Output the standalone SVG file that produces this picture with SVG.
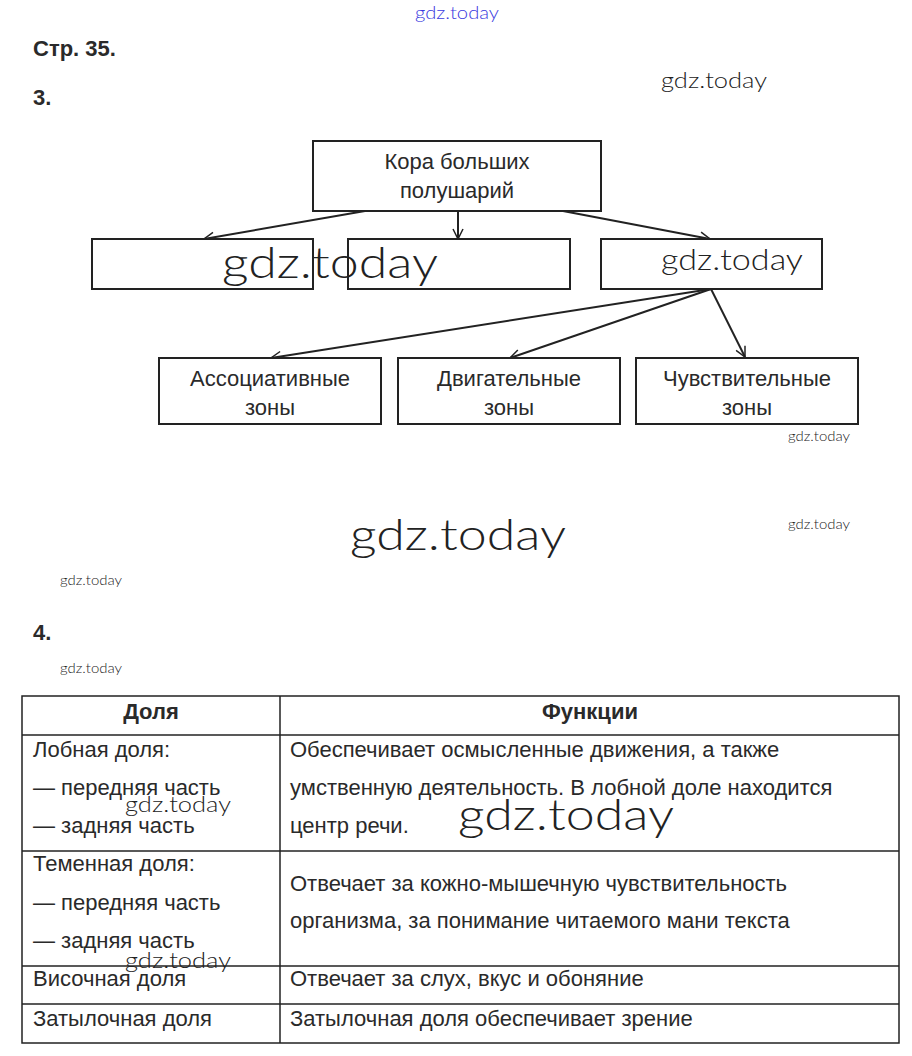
<svg xmlns="http://www.w3.org/2000/svg" width="912" height="1056" viewBox="0 0 912 1056">
<defs>
<marker id="ah" viewBox="0 0 12 12" refX="11" refY="6" markerWidth="12" markerHeight="12" markerUnits="userSpaceOnUse" orient="auto">
<path d="M1,1 L11,6 L1,11" fill="none" stroke="#222" stroke-width="1.5"/>
</marker>
<style>
.box{fill:#fff;stroke:#222;stroke-width:2}
.t{font-family:"Liberation Sans",Arial,sans-serif;font-size:22px;fill:#2a2a2a}
.c{text-anchor:middle}
.b{font-weight:bold}
.wm{font-family:Lato,"DejaVu Sans",sans-serif;font-weight:300;fill:#222}
.ln{stroke:#222;stroke-width:2;fill:none}
.grid{stroke:#222;stroke-width:1.5;fill:none}
</style>
</defs>
<rect width="912" height="1056" fill="#fff"/>
<text class="wm" x="415" y="19" font-size="17" style="fill:#3a3ae0" textLength="84" lengthAdjust="spacingAndGlyphs">gdz.today</text>
<text class="t b" x="33" y="56">Стр. 35.</text>
<text class="t b" x="33" y="105">3.</text>
<text class="wm" x="661" y="88" font-size="22" textLength="106" lengthAdjust="spacingAndGlyphs">gdz.today</text>

<g id="connectors">
<line class="ln" x1="365" y1="211" x2="204" y2="239" marker-end="url(#ah)"/>
<line class="ln" x1="458" y1="211" x2="458" y2="239" marker-end="url(#ah)"/>
<line class="ln" x1="563" y1="211" x2="710" y2="239" marker-end="url(#ah)"/>
<line class="ln" x1="711" y1="289" x2="271" y2="358" marker-end="url(#ah)"/>
<line class="ln" x1="711" y1="289" x2="510" y2="358" marker-end="url(#ah)"/>
<line class="ln" x1="711" y1="289" x2="745" y2="357" marker-end="url(#ah)"/>
</g>

<g id="n-top"><rect class="box" x="313" y="141" width="288" height="70"/>
<text class="t c" x="457" y="169">Кора больших</text>
<text class="t c" x="457" y="198">полушарий</text></g>
<g id="n-b1"><rect class="box" x="92" y="239" width="221" height="50"/></g>
<g id="n-b2"><rect class="box" x="348" y="239" width="222" height="50"/></g>
<g id="n-b3"><rect class="box" x="601" y="239" width="221" height="50"/></g>
<g id="n-assoc"><rect class="box" x="159" y="358" width="222" height="66"/>
<text class="t c" x="270" y="386">Ассоциативные</text>
<text class="t c" x="270" y="415">зоны</text></g>
<g id="n-motor"><rect class="box" x="398" y="358" width="222" height="66"/>
<text class="t c" x="509" y="386">Двигательные</text>
<text class="t c" x="509" y="415">зоны</text></g>
<g id="n-sens"><rect class="box" x="636" y="358" width="222" height="66"/>
<text class="t c" x="747" y="386">Чувствительные</text>
<text class="t c" x="747" y="415">зоны</text></g>

<text class="wm" x="222" y="278" font-size="44" textLength="216" lengthAdjust="spacingAndGlyphs">gdz.today</text>
<text class="wm" x="661" y="270" font-size="30" textLength="142" lengthAdjust="spacingAndGlyphs">gdz.today</text>
<text class="wm" x="788" y="441" font-size="13" textLength="62" lengthAdjust="spacingAndGlyphs">gdz.today</text>
<text class="wm" x="788" y="529" font-size="13" textLength="62" lengthAdjust="spacingAndGlyphs">gdz.today</text>
<text class="wm" x="350" y="550" font-size="44" textLength="216" lengthAdjust="spacingAndGlyphs">gdz.today</text>
<text class="wm" x="60" y="585" font-size="13" textLength="62" lengthAdjust="spacingAndGlyphs">gdz.today</text>
<text class="t b" x="33" y="640">4.</text>
<text class="wm" x="60" y="673" font-size="13" textLength="62" lengthAdjust="spacingAndGlyphs">gdz.today</text>

<g id="table">
<rect class="grid" x="22" y="696" width="877" height="347"/>
<line class="grid" x1="280" y1="696" x2="280" y2="1043"/>
<line class="grid" x1="22" y1="735" x2="899" y2="735"/>
<line class="grid" x1="22" y1="851" x2="899" y2="851"/>
<line class="grid" x1="22" y1="966" x2="899" y2="966"/>
<line class="grid" x1="22" y1="1004" x2="899" y2="1004"/>
<text class="t b c" x="151" y="719">Доля</text>
<text class="t b c" x="590" y="719">Функции</text>
<text class="t" x="33" y="757">Лобная доля:</text>
<text class="t" x="33" y="795">— передняя часть</text>
<text class="t" x="33" y="833">— задняя часть</text>
<text class="t" x="290" y="757">Обеспечивает осмысленные движения, а также</text>
<text class="t" x="290" y="795">умственную деятельность. В лобной доле находится</text>
<text class="t" x="290" y="833">центр речи.</text>
<text class="t" x="33" y="871">Теменная доля:</text>
<text class="t" x="33" y="910">— передняя часть</text>
<text class="t" x="33" y="948">— задняя часть</text>
<text class="t" x="290" y="891">Отвечает за кожно-мышечную чувствительность</text>
<text class="t" x="290" y="928">организма, за понимание читаемого мани текста</text>
<text class="t" x="33" y="986">Височная доля</text>
<text class="t" x="290" y="986">Отвечает за слух, вкус и обоняние</text>
<text class="t" x="33" y="1026">Затылочная доля</text>
<text class="t" x="290" y="1026">Затылочная доля обеспечивает зрение</text>
</g>
<text class="wm" x="125" y="812" font-size="22" textLength="106" lengthAdjust="spacingAndGlyphs">gdz.today</text>
<text class="wm" x="458" y="830" font-size="44" textLength="216" lengthAdjust="spacingAndGlyphs">gdz.today</text>
<text class="wm" x="125" y="968" font-size="22" textLength="106" lengthAdjust="spacingAndGlyphs">gdz.today</text>
</svg>
